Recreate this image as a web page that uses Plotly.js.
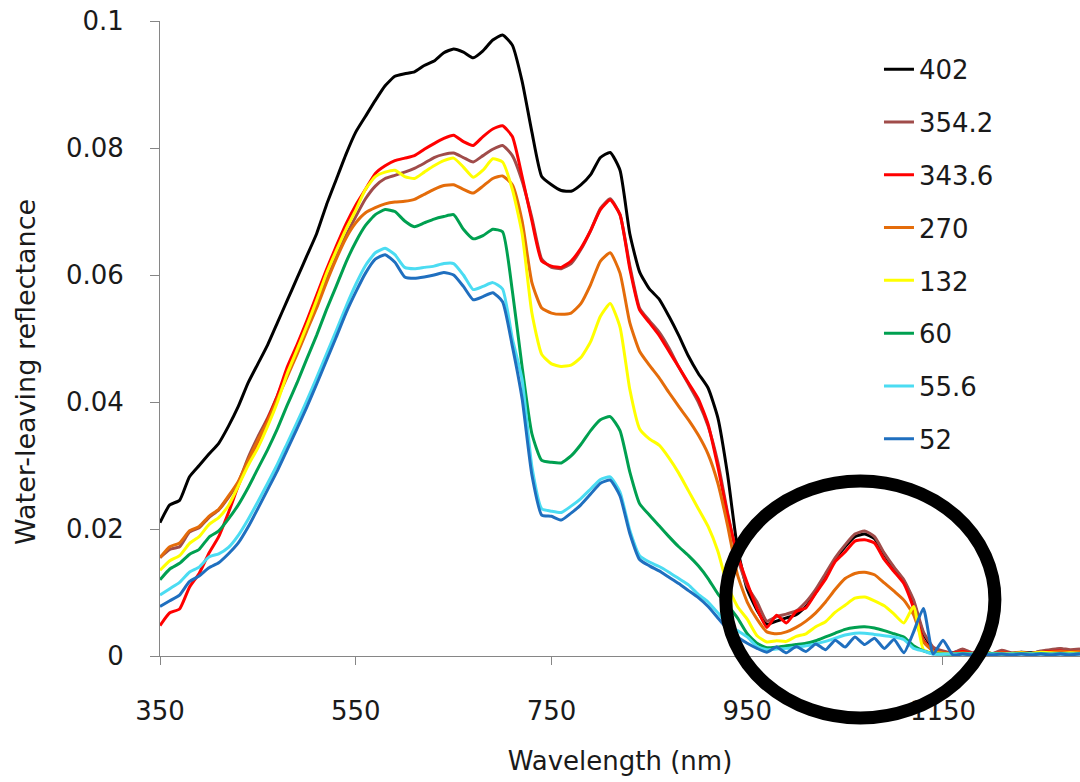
<!DOCTYPE html>
<html>
<head>
<meta charset="utf-8">
<script src="https://cdn.plot.ly/plotly-3.0.1.min.js"></script>
<style>html,body{margin:0;padding:0;background:#fff;}#chart{width:1080px;height:782px;}</style>
</head>
<body>
<div id="chart"></div>
<script>
// Wavelength (nm), 10 nm steps
const wavelength = [];
for (let w = 350; w <= 1290; w += 10) wavelength.push(w);

const seriesNames = ["402", "354.2", "343.6", "270", "132", "60", "55.6", "52"];
const seriesColors = ["#000000", "#a04c4a", "#ff0000", "#e46c0a", "#ffff00", "#00a050", "#4bdcf2", "#1f6fbf"];

const r402 = [
0.0210,0.0238,0.0245,0.0282,0.0300,0.0318,0.0335,0.0362,0.0393,0.0430,
0.0460,0.0490,0.0525,0.0560,0.0595,0.0630,0.0665,0.0710,0.0750,0.0790,
0.0825,0.0850,0.0875,0.0898,0.0913,0.0917,0.0920,0.0930,0.0937,0.0950,
0.0956,0.0951,0.0942,0.0953,0.0970,0.0978,0.0962,0.0905,0.0825,0.0755,
0.0742,0.0733,0.0732,0.0742,0.0758,0.0785,0.0793,0.0765,0.0665,0.0605,
0.0578,0.0562,0.0535,0.0505,0.0472,0.0445,0.0422,0.0375,0.0285,0.0170,
0.0105,0.0072,0.0050,0.0055,0.0060,0.0065,0.0078,0.0100,0.0125,0.0152,
0.0172,0.0188,0.0192,0.0185,0.0160,0.0138,0.0118,0.0085,0.0035,0.0012,
0.0006,0.0005,0.0009,0.0004,0.0008,0.0003,0.0007,0.0004,0.0006,0.0005,
0.0007,0.0009,0.0011,0.0008,0.0010];

const r354 = [
0.0155,0.0168,0.0172,0.0195,0.0202,0.0218,0.0230,0.0250,0.0273,0.0312,
0.0345,0.0375,0.0410,0.0448,0.0482,0.0520,0.0555,0.0592,0.0628,0.0662,
0.0692,0.0720,0.0740,0.0752,0.0757,0.0762,0.0768,0.0776,0.0785,0.0790,
0.0792,0.0785,0.0778,0.0788,0.0798,0.0804,0.0788,0.0748,0.0690,0.0625,
0.0612,0.0610,0.0618,0.0640,0.0670,0.0705,0.0720,0.0695,0.0615,0.0548,
0.0528,0.0510,0.0485,0.0455,0.0428,0.0400,0.0362,0.0305,0.0225,0.0155,
0.0110,0.0085,0.0055,0.0062,0.0066,0.0071,0.0085,0.0105,0.0130,0.0155,
0.0175,0.0192,0.0197,0.0188,0.0162,0.0140,0.0120,0.0088,0.0038,0.0014,
0.0008,0.0005,0.0011,0.0005,0.0010,0.0004,0.0009,0.0005,0.0006,0.0004,
0.0008,0.0010,0.0012,0.0010,0.0011];

const r343 = [
0.0048,0.0068,0.0074,0.0108,0.0130,0.0162,0.0188,0.0226,0.0268,0.0305,
0.0335,0.0372,0.0410,0.0455,0.0490,0.0528,0.0568,0.0608,0.0645,0.0680,
0.0710,0.0735,0.0760,0.0772,0.0780,0.0784,0.0788,0.0798,0.0807,0.0815,
0.0820,0.0810,0.0804,0.0818,0.0830,0.0835,0.0818,0.0755,0.0685,0.0622,
0.0614,0.0612,0.0622,0.0642,0.0670,0.0703,0.0718,0.0695,0.0610,0.0545,
0.0525,0.0505,0.0480,0.0455,0.0430,0.0405,0.0365,0.0298,0.0222,0.0160,
0.0115,0.0075,0.0045,0.0064,0.0052,0.0070,0.0076,0.0099,0.0121,0.0149,
0.0164,0.0181,0.0183,0.0178,0.0152,0.0133,0.0114,0.0075,0.0025,0.0008,
0.0005,0.0004,0.0007,0.0004,0.0006,0.0003,0.0006,0.0004,0.0005,0.0004,
0.0006,0.0007,0.0008,0.0006,0.0007];

const r270 = [
0.0155,0.0172,0.0178,0.0197,0.0204,0.0220,0.0231,0.0252,0.0275,0.0308,
0.0340,0.0370,0.0405,0.0440,0.0475,0.0512,0.0548,0.0588,0.0625,0.0658,
0.0682,0.0698,0.0706,0.0712,0.0715,0.0716,0.0719,0.0727,0.0735,0.0741,
0.0742,0.0735,0.0729,0.0740,0.0752,0.0756,0.0742,0.0685,0.0588,0.0548,
0.0540,0.0538,0.0540,0.0555,0.0585,0.0622,0.0635,0.0603,0.0525,0.0480,
0.0458,0.0438,0.0415,0.0393,0.0372,0.0348,0.0318,0.0272,0.0205,0.0128,
0.0085,0.0058,0.0038,0.0035,0.0038,0.0045,0.0055,0.0068,0.0085,0.0105,
0.0122,0.0130,0.0132,0.0128,0.0115,0.0102,0.0088,0.0065,0.0022,0.0008,
0.0005,0.0004,0.0005,0.0004,0.0005,0.0004,0.0005,0.0004,0.0005,0.0004,
0.0005,0.0006,0.0007,0.0006,0.0007];

const r132 = [
0.0135,0.0150,0.0158,0.0177,0.0188,0.0207,0.0218,0.0237,0.0268,0.0300,
0.0328,0.0362,0.0400,0.0445,0.0482,0.0520,0.0560,0.0602,0.0638,0.0672,
0.0702,0.0735,0.0755,0.0762,0.0765,0.0755,0.0752,0.0762,0.0772,0.0780,
0.0784,0.0770,0.0754,0.0765,0.0783,0.0778,0.0735,0.0665,0.0540,0.0475,
0.0460,0.0456,0.0458,0.0470,0.0495,0.0535,0.0555,0.0518,0.0420,0.0358,
0.0342,0.0332,0.0312,0.0288,0.0260,0.0232,0.0204,0.0165,0.0110,0.0078,
0.0058,0.0032,0.0022,0.0024,0.0023,0.0031,0.0035,0.0046,0.0054,0.0069,
0.0080,0.0091,0.0093,0.0087,0.0079,0.0066,0.0052,0.0078,0.0010,0.0005,
0.0004,0.0003,0.0004,0.0003,0.0005,0.0004,0.0003,0.0004,0.0005,0.0004,
0.0006,0.0005,0.0004,0.0005,0.0004];

const r60 = [
0.0120,0.0137,0.0146,0.0160,0.0168,0.0187,0.0197,0.0216,0.0238,0.0265,
0.0295,0.0325,0.0358,0.0395,0.0430,0.0468,0.0505,0.0545,0.0582,0.0620,
0.0652,0.0678,0.0695,0.0703,0.0700,0.0685,0.0676,0.0682,0.0688,0.0692,
0.0695,0.0672,0.0657,0.0662,0.0672,0.0668,0.0575,0.0455,0.0350,0.0308,
0.0305,0.0304,0.0315,0.0333,0.0355,0.0372,0.0377,0.0355,0.0290,0.0240,
0.0222,0.0205,0.0188,0.0172,0.0158,0.0142,0.0122,0.0098,0.0080,0.0060,
0.0035,0.0020,0.0013,0.0014,0.0016,0.0018,0.0020,0.0024,0.0030,0.0036,
0.0042,0.0045,0.0046,0.0044,0.0040,0.0035,0.0030,0.0016,0.0008,0.0004,
0.0003,0.0003,0.0004,0.0003,0.0003,0.0004,0.0003,0.0003,0.0004,0.0003,
0.0004,0.0003,0.0004,0.0003,0.0004];

const r55 = [
0.0096,0.0106,0.0116,0.0132,0.0140,0.0156,0.0161,0.0171,0.0190,0.0215,
0.0243,0.0272,0.0302,0.0335,0.0368,0.0402,0.0438,0.0475,0.0512,0.0550,
0.0585,0.0615,0.0635,0.0642,0.0632,0.0612,0.0610,0.0612,0.0614,0.0618,
0.0618,0.0600,0.0577,0.0582,0.0588,0.0578,0.0500,0.0435,0.0298,0.0232,
0.0228,0.0226,0.0236,0.0248,0.0263,0.0278,0.0282,0.0258,0.0198,0.0158,
0.0148,0.0141,0.0132,0.0122,0.0112,0.0097,0.0085,0.0068,0.0050,0.0040,
0.0030,0.0015,0.0010,0.0011,0.0012,0.0014,0.0016,0.0019,0.0023,0.0028,
0.0033,0.0036,0.0036,0.0034,0.0032,0.0030,0.0026,0.0012,0.0008,0.0003,
0.0003,0.0003,0.0003,0.0003,0.0003,0.0003,0.0003,0.0003,0.0003,0.0003,
0.0003,0.0003,0.0003,0.0003,0.0003];

const r52 = [
0.0078,0.0087,0.0096,0.0117,0.0126,0.0139,0.0147,0.0161,0.0178,0.0203,
0.0232,0.0262,0.0292,0.0325,0.0358,0.0392,0.0428,0.0465,0.0502,0.0540,
0.0573,0.0603,0.0625,0.0632,0.0620,0.0597,0.0595,0.0597,0.0600,0.0604,
0.0600,0.0582,0.0561,0.0566,0.0572,0.0558,0.0488,0.0405,0.0285,0.0222,
0.0220,0.0214,0.0225,0.0238,0.0255,0.0272,0.0277,0.0252,0.0193,0.0152,
0.0142,0.0134,0.0124,0.0114,0.0103,0.0092,0.0078,0.0060,0.0042,0.0030,
0.0020,0.0012,0.0006,0.0014,0.0005,0.0015,0.0007,0.0019,0.0010,0.0025,
0.0014,0.0030,0.0018,0.0028,0.0012,0.0026,0.0005,0.0038,0.0075,0.0003,
0.0025,0.0002,0.0003,0.0002,0.0003,0.0002,0.0003,0.0002,0.0003,0.0002,
0.0003,0.0002,0.0003,0.0002,0.0003];

const allSeries = [r402, r354, r343, r270, r132, r60, r55, r52];

const xTickVals = [350, 550, 750, 950, 1150];
const yTickVals = [0, 0.02, 0.04, 0.06, 0.08, 0.1];

const FONT = "'DejaVu Sans', 'Open Sans', sans-serif";
const FS = 26;
const TXT = "#1a1a1a";

const traces = allSeries.map((ys, i) => ({
  type: "scatter",
  mode: "lines",
  x: wavelength,
  y: ys,
  name: seriesNames[i],
  legendgroup: "g" + i,
  line: {color: seriesColors[i], width: 3, shape: "spline", smoothing: 0.5},
  hoverinfo: "x+y+name"
}));

const layout = {
  width: 1080,
  height: 782,
  margin: {l: 160, r: 0, t: 21, b: 126},
  paper_bgcolor: "#ffffff",
  plot_bgcolor: "#ffffff",
  font: {family: FONT, size: FS, color: TXT},
  showlegend: true,
  legend: {
    x: 0.7815, xanchor: "left",
    y: 0.961, yanchor: "top",
    bgcolor: "rgba(255,255,255,0)",
    borderwidth: 0,
    traceorder: "grouped",
    tracegroupgap: 16,
    font: {family: FONT, size: FS, color: TXT}
  },
  xaxis: {
    range: [350, 1290],
    tickvals: xTickVals,
    ticks: "outside",
    ticklen: 8,
    tickcolor: "#868686",
    showline: true,
    linecolor: "#868686",
    linewidth: 1,
    showgrid: false,
    zeroline: false,
    ticklabelstandoff: 24,
    tickfont: {family: FONT, size: FS, color: TXT},
    title: {text: "Wavelength (nm)", standoff: 26, font: {family: FONT, size: FS, color: TXT}}
  },
  yaxis: {
    range: [0, 0.1],
    tickvals: yTickVals,
    ticks: "outside",
    ticklen: 9,
    tickcolor: "#868686",
    showline: true,
    linecolor: "#868686",
    linewidth: 1,
    showgrid: false,
    zeroline: false,
    ticklabelstandoff: 21,
    tickfont: {family: FONT, size: FS, color: TXT}
  },
  annotations: [{
    text: "Water-leaving reflectance",
    xref: "paper", yref: "paper",
    x: -0.147, y: 0.447,
    xanchor: "center", yanchor: "middle",
    textangle: -90,
    showarrow: false,
    font: {family: FONT, size: FS + 1, color: TXT}
  }],
  shapes: [{
    type: "circle",
    xref: "paper", yref: "paper",
    x0: 0.615, x1: 0.9075,
    y0: -0.0976, y1: 0.2756,
    line: {color: "#000000", width: 13},
    fillcolor: "rgba(0,0,0,0)",
    layer: "above"
  }]
};

Plotly.newPlot("chart", traces, layout, {displayModeBar: false, staticPlot: true});
</script>
</body>
</html>
